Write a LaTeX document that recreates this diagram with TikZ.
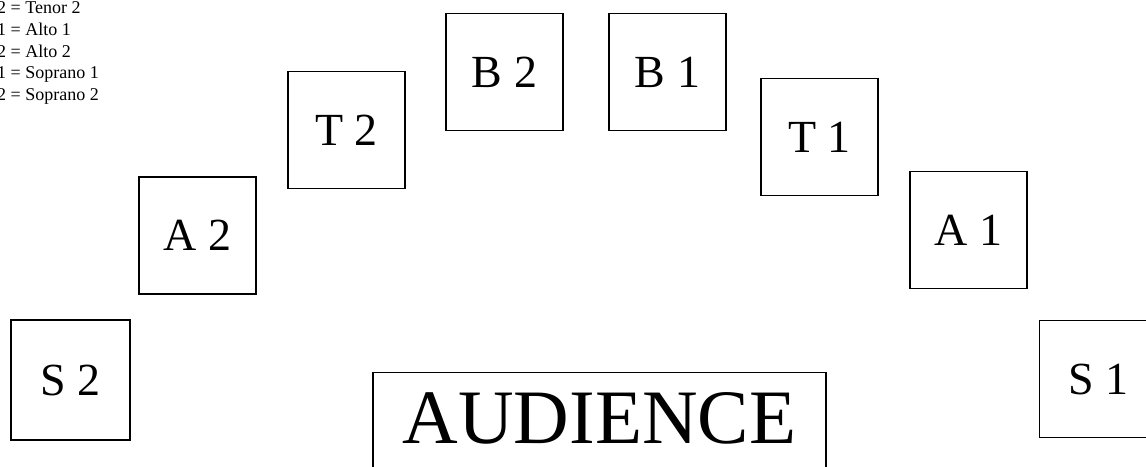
\documentclass[tikz,border=0pt]{standalone}
\usepackage{fontspec}
\setmainfont{Liberation Serif}
\begin{document}
\begin{tikzpicture}[x=1pt,y=-1pt,
  part/.style={draw,line width=1.2pt,minimum width=117pt,minimum height=117pt,inner sep=0pt,
    font=\fontsize{46}{46}\selectfont},
  legend/.style={anchor=base west,inner sep=0pt,font=\fontsize{18}{18}\selectfont}]
\useasboundingbox (0,0) rectangle (1146,466);
\clip (0,0) rectangle (1146,466);
% legend
\node[legend] (l1) at (-3,13) {2 = Tenor 2};
\node[legend] (l2) at (-3,35) {1 = Alto 1};
\node[legend] (l3) at (-3,57) {2 = Alto 2};
\node[legend] (l4) at (-3,78) {1 = Soprano 1};
\node[legend] (l5) at (-3,100) {2 = Soprano 2};
% singers
\node[part,minimum width=119pt,minimum height=120pt] (s2) at (70.5,380) {S 2};
\node[part] (a2) at (197.5,235.5) {A 2};
\node[part] (t2) at (346.5,130) {T 2};
\node[part] (b2) at (504.5,72) {B 2};
\node[part] (b1) at (667.5,72) {B 1};
\node[part] (t1) at (819.5,137) {T 1};
\node[part] (a1) at (968.5,230) {A 1};
\node[part,anchor=north west] (s1) at (1039,320) {S 1};
% audience
\node[draw,line width=1.2pt,anchor=north,minimum width=453pt,inner xsep=0pt,inner ysep=20pt,
  text depth=50pt,font=\fontsize{77}{77}\selectfont] (aud) at (599.5,372) {AUDIENCE};
\end{tikzpicture}
\end{document}
